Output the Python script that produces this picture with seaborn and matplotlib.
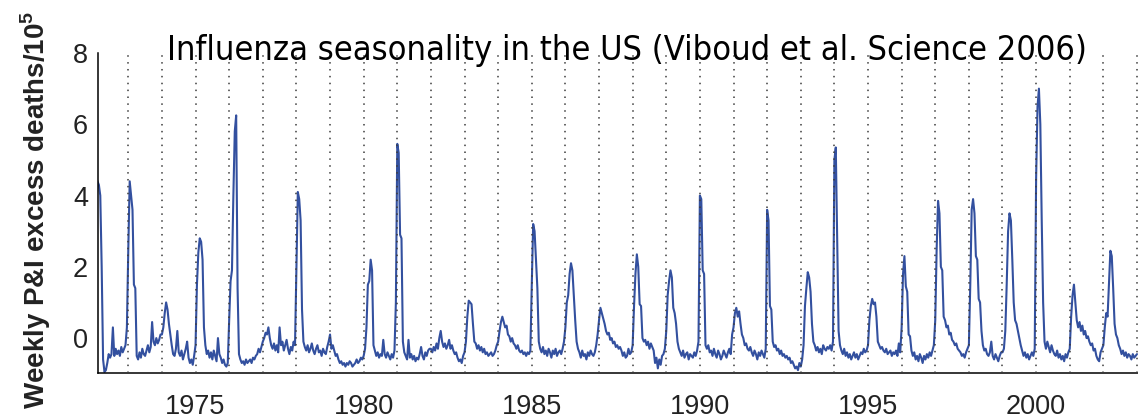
import matplotlib
matplotlib.use("Agg")
import matplotlib.pyplot as plt
from matplotlib import font_manager as fm
import pandas as pd
import seaborn as sns

# Weekly P&I excess deaths per 100,000, sampled twice a month (24 values per calendar year)
y1972 = [4.6, 4.5, 4.4, 4.3, 4.0, 2.0, -0.6, -0.95, -0.9, -0.7, -0.45, -0.55, -0.45, 0.3, -0.5, -0.3, -0.45, -0.35, -0.5, -0.25, -0.4, -0.3, -0.2, 0.3]
y1973 = [2.5, 4.4, 4.0, 3.6, 1.5, 1.4, -0.5, -0.6, -0.4, -0.55, -0.3, -0.45, -0.5, -0.35, -0.2, -0.4, -0.25, 0.45, -0.1, -0.2, 0.0, -0.15, -0.05, 0.1]
y1974 = [0.1, 0.3, 0.7, 1.0, 0.8, 0.4, 0.1, -0.2, -0.45, -0.5, -0.3, 0.2, -0.4, -0.5, -0.35, -0.6, -0.45, -0.3, -0.1, -0.55, -0.7, -0.6, -0.75, -0.5]
y1975 = [-0.2, 1.5, 2.4, 2.8, 2.7, 2.2, 0.3, -0.2, -0.45, -0.35, -0.55, -0.4, -0.6, -0.35, -0.5, -0.65, 0.0, -0.45, -0.55, -0.7, -0.6, -0.75, -0.8, -0.7]
y1976 = [0.5, 1.6, 1.9, 4.0, 5.8, 6.25, 1.4, -0.45, -0.6, -0.7, -0.65, -0.75, -0.6, -0.7, -0.65, -0.6, -0.7, -0.55, -0.6, -0.5, -0.45, -0.3, -0.4, -0.25]
y1977 = [-0.1, 0.0, 0.15, 0.1, 0.3, 0.0, -0.2, -0.3, -0.15, -0.35, -0.2, -0.4, 0.3, -0.2, -0.1, -0.35, -0.2, -0.05, -0.3, -0.45, -0.25, -0.35, -0.1, -0.2]
y1978 = [2.0, 4.1, 3.9, 3.3, 0.8, -0.1, -0.25, -0.35, -0.2, -0.4, -0.3, -0.15, -0.35, -0.45, -0.3, -0.2, -0.4, -0.35, -0.5, -0.3, -0.4, -0.45, -0.25, -0.1]
y1979 = [0.1, -0.3, -0.2, -0.35, -0.5, -0.45, -0.6, -0.7, -0.65, -0.75, -0.7, -0.8, -0.7, -0.75, -0.65, -0.7, -0.8, -0.75, -0.7, -0.6, -0.7, -0.65, -0.55, -0.6]
y1980 = [-0.5, -0.3, 0.3, 1.5, 1.6, 2.2, 1.9, -0.2, -0.35, -0.5, -0.4, -0.55, -0.45, -0.5, -0.05, -0.45, -0.55, -0.4, -0.5, -0.6, -0.45, -0.55, -0.35, 1.0]
y1981 = [5.45, 5.2, 2.9, 2.8, -0.1, -0.4, -0.5, -0.6, -0.05, -0.55, -0.45, -0.6, -0.5, -0.65, -0.55, -0.6, -0.45, -0.25, -0.5, -0.6, -0.4, -0.5, -0.35, -0.3]
y1982 = [-0.3, -0.4, -0.25, -0.35, -0.15, -0.3, 0.0, 0.2, -0.1, -0.25, -0.15, -0.3, -0.2, -0.05, -0.3, -0.2, -0.35, -0.45, -0.4, -0.55, -0.65, -0.6, -0.7, -0.5]
y1983 = [-0.4, -0.1, 0.6, 1.05, 1.0, 0.95, 0.4, -0.1, -0.15, -0.3, -0.2, -0.35, -0.25, -0.4, -0.3, -0.45, -0.4, -0.5, -0.45, -0.4, -0.5, -0.45, -0.35, -0.2]
y1984 = [-0.1, 0.2, 0.45, 0.6, 0.45, 0.3, 0.35, 0.1, 0.05, -0.1, 0.0, -0.15, -0.2, -0.3, -0.2, -0.35, -0.4, -0.35, -0.45, -0.4, -0.5, -0.4, -0.45, -0.35]
y1985 = [1.5, 3.2, 3.0, 2.2, 1.4, -0.1, -0.3, -0.4, -0.25, -0.45, -0.35, -0.5, -0.3, -0.4, -0.55, -0.35, -0.45, -0.3, -0.5, -0.4, -0.35, -0.45, -0.3, -0.1]
y1986 = [0.3, 1.0, 1.2, 1.8, 2.1, 1.9, 1.2, 0.5, -0.1, -0.3, -0.4, -0.55, -0.35, -0.5, -0.45, -0.6, -0.4, -0.5, -0.35, -0.45, -0.5, -0.4, -0.2, 0.1]
y1987 = [0.5, 0.85, 0.7, 0.55, 0.4, 0.2, 0.1, 0.15, -0.05, 0.0, -0.15, -0.1, -0.25, -0.2, -0.3, -0.25, -0.35, -0.5, -0.4, -0.55, -0.5, -0.3, -0.45, -0.4]
y1988 = [-0.2, 0.9, 1.8, 2.35, 2.0, 0.95, 0.9, 0.0, -0.1, -0.05, -0.2, -0.1, -0.3, -0.15, -0.25, -0.35, -0.7, -0.55, -0.85, -0.6, -0.75, -0.5, -0.45, -0.3]
y1989 = [0.2, 1.2, 1.6, 1.9, 1.7, 0.85, 0.7, 0.4, -0.1, -0.3, -0.4, -0.5, -0.35, -0.55, -0.45, -0.4, -0.6, -0.45, -0.5, -0.55, -0.4, -0.5, -0.35, -0.1]
y1990 = [4.0, 3.9, 1.9, 1.8, -0.2, -0.3, -0.2, -0.4, -0.35, -0.5, -0.3, -0.45, -0.55, -0.35, -0.45, -0.6, -0.5, -0.35, -0.45, -0.55, -0.4, -0.3, -0.45, 0.1]
y1991 = [0.3, 0.7, 0.85, 0.6, 0.75, 0.4, 0.1, 0.0, -0.2, -0.15, -0.3, -0.35, -0.25, -0.4, -0.5, -0.35, -0.45, -0.6, -0.4, -0.5, -0.35, -0.45, -0.55, -0.3]
y1992 = [3.6, 3.3, 0.9, 0.8, -0.1, -0.25, -0.2, -0.35, -0.3, -0.45, -0.35, -0.5, -0.45, -0.55, -0.5, -0.6, -0.55, -0.7, -0.65, -0.75, -0.85, -0.8, -0.9, -0.7]
y1993 = [-0.8, -0.6, -0.2, 0.9, 1.4, 1.85, 1.7, 1.3, 0.4, -0.1, -0.2, -0.35, -0.25, -0.4, -0.3, -0.45, -0.2, -0.3, -0.35, -0.25, -0.3, -0.2, -0.35, -0.1]
y1994 = [5.0, 5.35, 2.7, 0.2, -0.2, -0.35, -0.45, -0.3, -0.5, -0.4, -0.55, -0.45, -0.6, -0.5, -0.4, -0.55, -0.45, -0.6, -0.5, -0.4, -0.45, -0.3, -0.4, -0.35]
y1995 = [-0.2, 0.5, 0.9, 1.1, 0.95, 1.0, 0.6, -0.1, -0.2, -0.3, -0.25, -0.35, -0.4, -0.3, -0.45, -0.4, -0.35, -0.5, -0.4, -0.45, -0.35, -0.5, -0.15, -0.4]
y1996 = [0.3, 1.8, 2.3, 1.45, 1.3, 0.1, 0.05, -0.35, -0.5, -0.4, -0.6, -0.5, -0.65, -0.45, -0.55, -0.7, -0.5, -0.6, -0.45, -0.55, -0.4, -0.5, -0.35, -0.2]
y1997 = [0.5, 2.5, 3.85, 3.5, 2.0, 1.9, 0.6, 0.5, 0.3, 0.35, 0.1, 0.15, -0.05, -0.1, -0.2, -0.15, -0.3, -0.35, -0.4, -0.5, -0.45, -0.55, -0.4, -0.3]
y1998 = [-0.2, 1.5, 3.6, 3.9, 3.5, 2.3, 2.2, 1.1, 1.0, 0.2, -0.2, -0.35, -0.3, -0.45, -0.5, -0.4, -0.1, -0.5, -0.6, -0.45, -0.55, -0.65, -0.5, -0.4]
y1999 = [-0.4, -0.3, 0.2, 1.5, 3.0, 3.5, 3.3, 2.2, 1.0, 0.5, 0.4, 0.2, 0.0, -0.2, -0.35, -0.5, -0.4, -0.55, -0.45, -0.6, -0.5, -0.4, -0.5, -0.3]
y2000 = [4.5, 6.5, 7.0, 6.0, 3.3, 1.0, -0.1, -0.3, -0.1, -0.25, -0.4, -0.2, -0.35, -0.45, -0.5, -0.35, -0.55, -0.45, -0.6, -0.5, -0.65, -0.45, -0.55, -0.4]
y2001 = [-0.3, 0.6, 1.2, 1.5, 1.0, 0.5, 0.3, 0.45, 0.2, 0.35, 0.1, 0.2, 0.0, 0.05, -0.1, -0.2, -0.15, -0.35, -0.3, -0.5, -0.6, -0.65, -0.4, -0.3]
y2002 = [-0.2, 0.3, 0.7, 0.6, 1.5, 2.45, 2.3, 1.4, 0.4, 0.1, 0.0, -0.2, -0.3, -0.45, -0.35, -0.5, -0.4, -0.55, -0.45, -0.5, -0.6, -0.45, -0.55, -0.5]
y2003 = [-0.45]

series_by_year = [y1972, y1973, y1974, y1975, y1976, y1977, y1978, y1979, y1980,
                  y1981, y1982, y1983, y1984, y1985, y1986, y1987, y1988, y1989,
                  y1990, y1991, y1992, y1993, y1994, y1995, y1996, y1997, y1998,
                  y1999, y2000, y2001, y2002, y2003]
first_year = 1972

season_marks = list(range(1973, 2004))          # dotted line at every 1 January
labelled_years = [1975, 1980, 1985, 1990, 1995, 2000]
y_ticks = [0, 2, 4, 6, 8]
y_tick_labels = ["0", "2", "4", "6", "8"]

title = "Influenza seasonality in the US (Viboud et al. Science 2006)"
y_title = "Weekly P&I excess deaths/10$^\\mathbf{5}$"

rows = []
for i, vals in enumerate(series_by_year):
    for k, v in enumerate(vals):
        rows.append((first_year + i + k / 24.0, v))
df = pd.DataFrame(rows, columns=["time", "excess"])

sns.set_style("white")
plt.rcParams["font.family"] = ["Liberation Sans", "DejaVu Sans"]
plt.rcParams["mathtext.fontset"] = "custom"
plt.rcParams["mathtext.rm"] = "Liberation Sans"
plt.rcParams["mathtext.bf"] = "Liberation Sans:bold"

W, H = 1138, 418
fig = plt.figure(figsize=(W / 100, H / 100), dpi=100)
fig.patch.set_facecolor("white")
left_px, bottom_px, top_px = 97.7, 373, 53
ax = fig.add_axes([left_px / W, 1 - bottom_px / H, 1 - left_px / W, (bottom_px - top_px) / H])

sns.lineplot(data=df, x="time", y="excess", ax=ax, color="#33509F",
             linewidth=1.5, zorder=2)

for yr in season_marks:
    ax.axvline(yr, color="#3c3c3c", linewidth=1.1, linestyle=(0, (1, 3.5)), zorder=3)

ax.set_xlim(1972.09, 2003.03)
ax.set_ylim(-0.98, 8.0)

ax.set_xticks(season_marks,
              labels=[str(y) if y in labelled_years else "" for y in season_marks])
ax.set_yticks(y_ticks, labels=y_tick_labels)
ax.tick_params(axis="x", direction="in", length=7, width=1.1, pad=15,
               labelsize=19.5, labelcolor="#222222", color="black")
ax.tick_params(axis="y", direction="in", length=5, width=1.1, pad=7,
               labelsize=19.5, labelcolor="#222222", color="black")

for side in ("top", "right"):
    ax.spines[side].set_visible(False)
for side in ("left", "bottom"):
    ax.spines[side].set_color("black")
    ax.spines[side].set_linewidth(1.1)

ax.set_xlabel("")
ax.set_ylabel(y_title, fontsize=20, fontweight="bold", color="#222222")
ax.yaxis.set_label_coords(-0.0425, 0.51)

# Title in a narrow face when one is installed; sized to span its slot above the plot
title_props = dict(family=["Liberation Sans", "DejaVu Sans"])
for entry in fm.fontManager.ttflist:
    narrow = ("Narrow" in entry.name or "Condensed" in entry.name
              or "condensed" in str(entry.stretch))
    if narrow and entry.style == "normal" and entry.weight in (400, "normal", "regular"):
        title_props = dict(fname=entry.fname)
        break
title_font = fm.FontProperties(size=28, **title_props)
title_text = fig.text(627 / W, 1 - 60 / H, title, ha="center", va="baseline",
                      fontproperties=title_font, color="black")
fig.canvas.draw()
span = title_text.get_window_extent().width
target_span = 920
if span > 0:
    title_font.set_size(28 * target_span / span)
    title_text.set_fontproperties(title_font)

fig.savefig("out.png", dpi=100, facecolor="white")
